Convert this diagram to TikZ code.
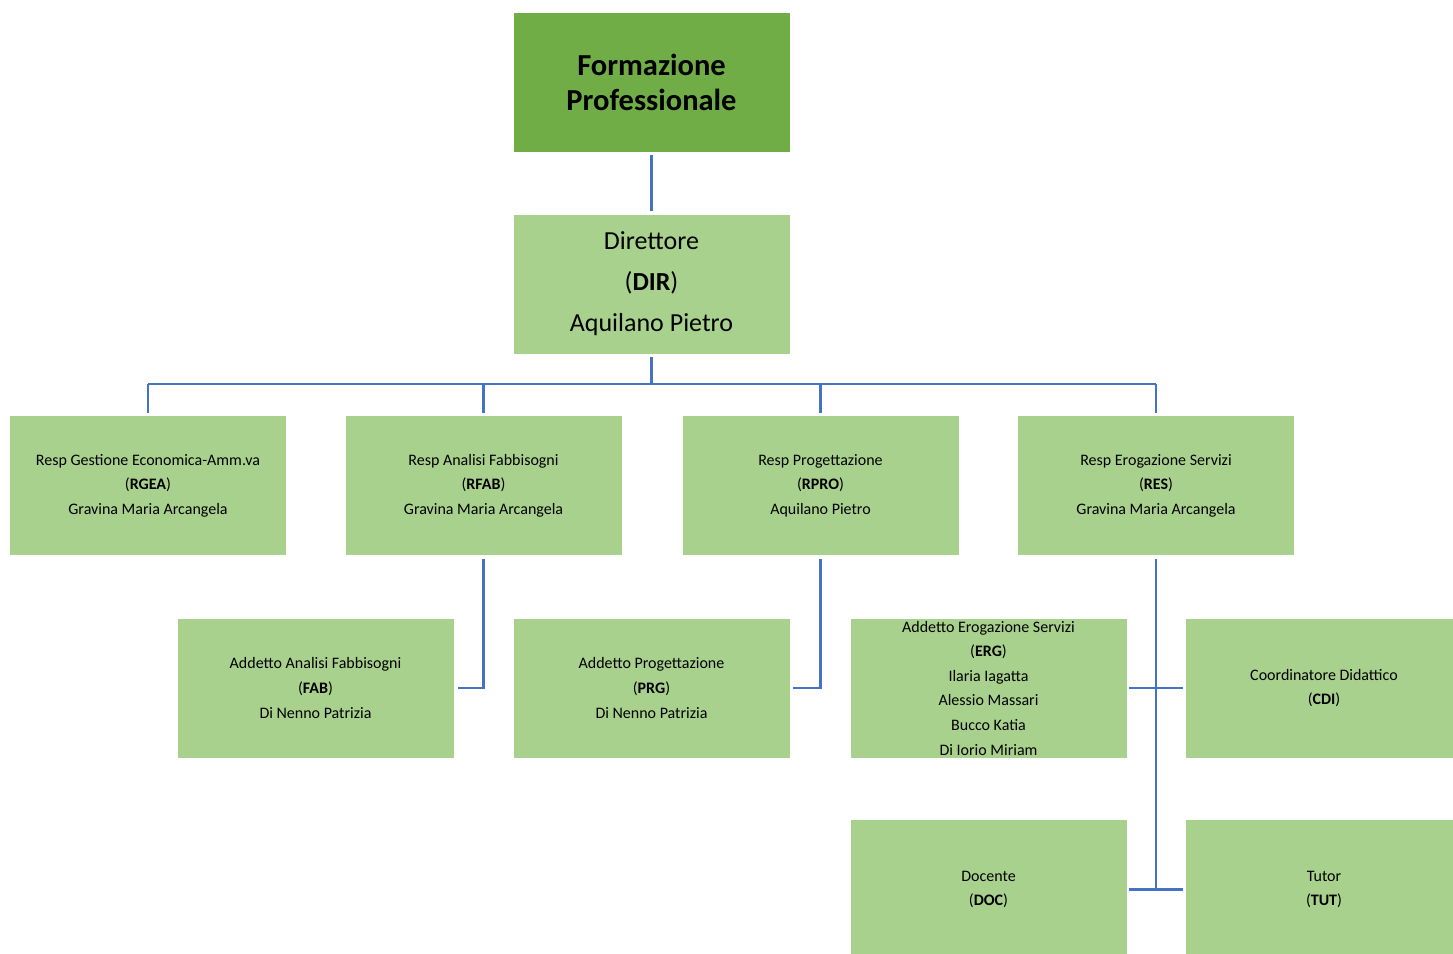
\documentclass[tikz,border=0pt]{standalone}
\usepackage{fontspec}
\setmainfont{Carlito}
\definecolor{dkgreen}{HTML}{70AD47}
\definecolor{ltgreen}{HTML}{A9D18E}
\definecolor{lineblue}{HTML}{4472C4}
\begin{document}
\begin{tikzpicture}[x=1pt,y=-1pt,
  box/.style={rectangle, fill=ltgreen, draw=none, minimum width=276pt, minimum height=139pt, align=center, inner sep=0pt, text=black},
  small/.style={font=\fontsize{16}{24.6}\selectfont},
  conn/.style={draw=lineblue, line width=2.2pt}]
\useasboundingbox (0,0) rectangle (1453,953);
\fill[white] (0,0) rectangle (1453,953);
% top
\node[box, fill=dkgreen, font=\fontsize{30.5}{35}\selectfont\bfseries] (top) at (651.5,82.5) {Formazione\\Professionale};
\node[box, font=\fontsize{26}{41}\selectfont] (dir) at (651.5,284) {Direttore\\(\textbf{DIR})\\Aquilano Pietro};
% row 2
\node[box, small] (rgea) at (148,485.5) {Resp Gestione Economica-Amm.va\\(\textbf{RGEA})\\Gravina Maria Arcangela};
\node[box, small] (rfab) at (483.5,485.5) {Resp Analisi Fabbisogni\\(\textbf{RFAB})\\Gravina Maria Arcangela};
\node[box, small] (rpro) at (820.5,485.5) {Resp Progettazione\\(\textbf{RPRO})\\Aquilano Pietro};
\node[box, small] (res) at (1156,485.5) {Resp Erogazione Servizi\\(\textbf{RES})\\Gravina Maria Arcangela};
% row 3
\node[box, small] (fab) at (315.5,688) {Addetto Analisi Fabbisogni\\(\textbf{FAB})\\Di Nenno Patrizia};
\node[box, small] (prg) at (651.5,688) {Addetto Progettazione\\(\textbf{PRG})\\Di Nenno Patrizia};
\node[box, small] (erg) at (988.5,688) {Addetto Erogazione Servizi\\(\textbf{ERG})\\Ilaria Iagatta\\Alessio Massari\\Bucco Katia\\Di Iorio Miriam};
\node[box, small] (cdi) at (1324,688) {Coordinatore Didattico\\(\textbf{CDI})};
% row 4
\node[box, small] (doc) at (988.5,889.5) {Docente\\(\textbf{DOC})};
\node[box, small] (tut) at (1324,889.5) {Tutor\\(\textbf{TUT})};
% connectors
\coordinate (busy) at (0,384);
\draw[conn] ([yshift=-3pt]top.south) -- ([yshift=3pt]dir.north);
\draw[conn] ([yshift=-3pt]dir.south) -- (dir.south |- busy);
\draw[conn] (rgea.north |- busy) -- (res.north |- busy);
\foreach \n in {rgea,rfab,rpro,res} {
  \draw[conn] (\n.north |- busy) -- ([yshift=3pt]\n.north);
}
\draw[conn] ([yshift=-4pt]rfab.south) |- ([xshift=4pt]fab.east);
\draw[conn] ([yshift=-4pt]rpro.south) |- ([xshift=3pt]prg.east);
\draw[conn] ([yshift=-4pt]res.south) -- (res.south |- tut.west);
\draw[conn] ([xshift=2pt]erg.east) -- ([xshift=-3pt]cdi.west);
\draw[conn] ([xshift=2pt]doc.east) -- ([xshift=-3pt]tut.west);
\end{tikzpicture}
\end{document}
